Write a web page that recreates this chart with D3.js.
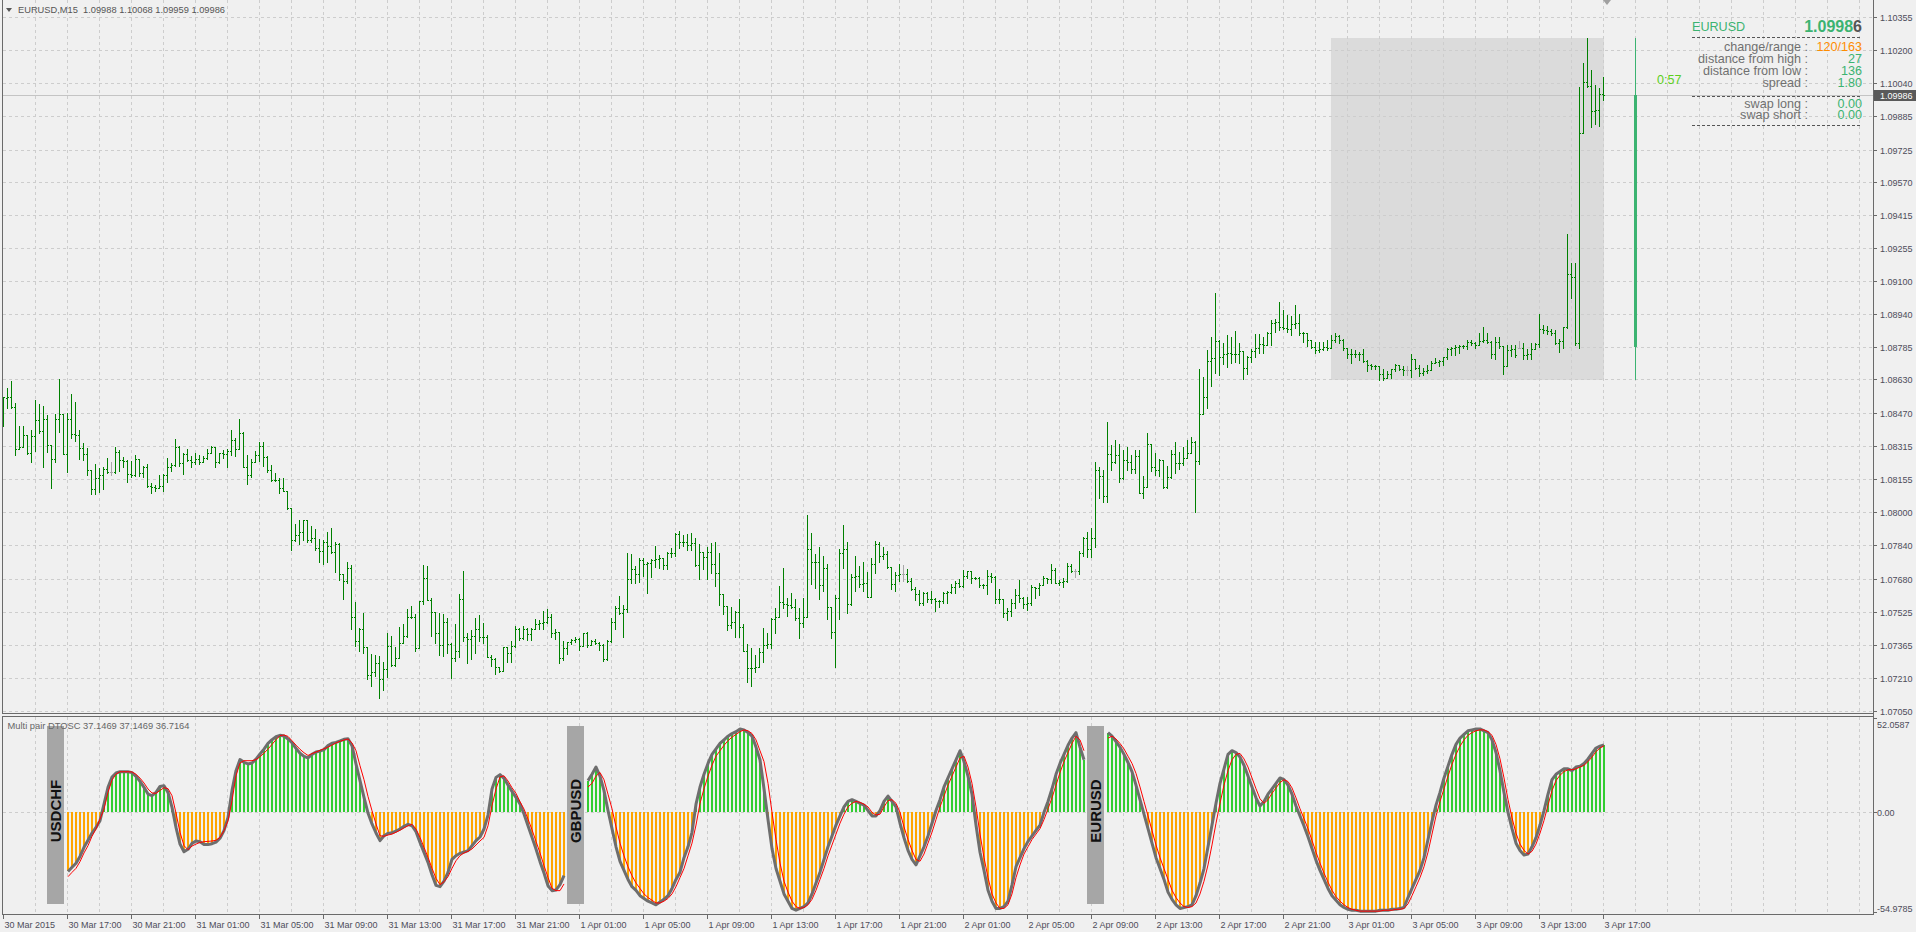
<!DOCTYPE html>
<html><head><meta charset="utf-8">
<script src="https://cdn.jsdelivr.net/npm/d3@7"></script>
<style>
html,body{margin:0;padding:0;background:#f0f0f0;overflow:hidden}
svg{display:block}
text{font-family:"Liberation Sans",Arial,sans-serif}
</style></head><body>
<svg id="c" width="1916" height="932"></svg>
<script>
// ---------------- DATA ----------------
const symbol = "EURUSD";
const titleText = "EURUSD,M15\u00A0\u00A01.09988 1.10068 1.09959 1.09986";
const oscTitle = "Multi pair DTOSC 37.1469 37.1469 36.7164";
const lastPrice = 1.09986;
const lastPriceStr = "1.09986";
const timerText = "0:57";
// daily candle: open, high, low, close
const dailyOHLC = [1.08786, 1.10256, 1.08626, 1.09986];
const dayStartBar = 332;
const infoLabels = ["change/range :", "distance from high :", "distance from low :", "spread :", "swap long :", "swap short :"];
const infoValues = ["120/163", "27", "136", "1.80", "0.00", "0.00"];
const priceTicks = [1.10355,1.10200,1.10040,1.09885,1.09725,1.09570,1.09415,1.09255,1.09100,1.08940,1.08785,1.08630,1.08470,1.08315,1.08155,1.08000,1.07840,1.07680,1.07525,1.07365,1.07210,1.07050];
const oscTicks = [52.0587, 0, -54.9785];
const oscTickLabels = ["52.0587", "0.00", "-54.9785"];
const timeLabels = ["30 Mar 2015","30 Mar 17:00","30 Mar 21:00","31 Mar 01:00","31 Mar 05:00","31 Mar 09:00","31 Mar 13:00","31 Mar 17:00","31 Mar 21:00","1 Apr 01:00","1 Apr 05:00","1 Apr 09:00","1 Apr 13:00","1 Apr 17:00","1 Apr 21:00","2 Apr 01:00","2 Apr 05:00","2 Apr 09:00","2 Apr 13:00","2 Apr 17:00","2 Apr 21:00","3 Apr 01:00","3 Apr 05:00","3 Apr 09:00","3 Apr 13:00","3 Apr 17:00"];

const barOpen = [1.08500,1.08544,1.08546,1.08501,1.08298,1.08310,1.08364,1.08279,1.08360,1.08436,
1.08383,1.08440,1.08317,1.08253,1.08444,1.08466,1.08277,1.08440,1.08369,1.08367,
1.08302,1.08274,1.08198,1.08107,1.08159,1.08174,1.08202,1.08191,1.08191,1.08283,
1.08247,1.08244,1.08182,1.08177,1.08250,1.08183,1.08215,1.08123,1.08117,1.08115,
1.08123,1.08177,1.08215,1.08221,1.08307,1.08231,1.08274,1.08247,1.08237,1.08253,
1.08237,1.08255,1.08279,1.08307,1.08236,1.08279,1.08277,1.08291,1.08340,1.08298,
1.08374,1.08215,1.08174,1.08239,1.08269,1.08315,1.08263,1.08199,1.08150,1.08153,
1.08115,1.08099,1.08017,1.07864,1.07890,1.07902,1.07959,1.07864,1.07874,1.07826,
1.07815,1.07858,1.07837,1.07810,1.07848,1.07702,1.07669,1.07731,1.07498,1.07386,
1.07442,1.07355,1.07223,1.07239,1.07282,1.07202,1.07253,1.07363,1.07272,1.07305,
1.07377,1.07409,1.07498,1.07501,1.07353,1.07574,1.07685,1.07579,1.07521,1.07421,
1.07364,1.07477,1.07371,1.07302,1.07337,1.07583,1.07402,1.07393,1.07409,1.07440,
1.07402,1.07405,1.07310,1.07301,1.07263,1.07244,1.07355,1.07329,1.07361,1.07440,
1.07398,1.07442,1.07418,1.07444,1.07466,1.07468,1.07477,1.07498,1.07421,1.07426,
1.07302,1.07350,1.07378,1.07390,1.07393,1.07363,1.07421,1.07366,1.07386,1.07377,
1.07366,1.07298,1.07386,1.07477,1.07540,1.07517,1.07536,1.07679,1.07726,1.07704,
1.07771,1.07750,1.07755,1.07771,1.07774,1.07778,1.07747,1.07802,1.07804,1.07893,
1.07855,1.07857,1.07842,1.07850,1.07747,1.07807,1.07783,1.07807,1.07750,1.07707,
1.07607,1.07552,1.07461,1.07477,1.07521,1.07453,1.07339,1.07258,1.07256,1.07259,
1.07331,1.07366,1.07371,1.07488,1.07498,1.07569,1.07559,1.07557,1.07548,1.07496,
1.07472,1.07498,1.07821,1.07759,1.07762,1.07651,1.07730,1.07545,1.07426,1.07588,
1.07802,1.07821,1.07559,1.07691,1.07694,1.07656,1.07659,1.07595,1.07749,1.07845,
1.07789,1.07797,1.07735,1.07656,1.07699,1.07703,1.07703,1.07672,1.07632,1.07608,
1.07567,1.07614,1.07583,1.07585,1.07576,1.07575,1.07614,1.07619,1.07643,1.07662,
1.07646,1.07694,1.07718,1.07683,1.07687,1.07651,1.07652,1.07694,1.07691,1.07583,
1.07584,1.07516,1.07529,1.07564,1.07603,1.07591,1.07559,1.07567,1.07643,1.07635,
1.07651,1.07683,1.07678,1.07722,1.07660,1.07667,1.07668,1.07741,1.07719,1.07719,
1.07805,1.07873,1.07821,1.07876,1.08199,1.08170,1.08076,1.08275,1.08238,1.08270,
1.08159,1.08246,1.08238,1.08202,1.08265,1.08091,1.08119,1.08322,1.08211,1.08199,
1.08246,1.08116,1.08164,1.08273,1.08230,1.08234,1.08257,1.08281,1.08334,1.08243,
1.08464,1.08545,1.08718,1.08733,1.08813,1.08739,1.08752,1.08754,1.08752,1.08750,
1.08766,1.08683,1.08739,1.08767,1.08779,1.08798,1.08796,1.08850,1.08901,1.08903,
1.08882,1.08877,1.08869,1.08894,1.08898,1.08850,1.08852,1.08818,1.08783,1.08771,
1.08773,1.08787,1.08779,1.08818,1.08837,1.08818,1.08779,1.08752,1.08750,1.08753,
1.08751,1.08718,1.08699,1.08696,1.08694,1.08656,1.08636,1.08656,1.08678,1.08699,
1.08679,1.08675,1.08675,1.08726,1.08683,1.08663,1.08672,1.08675,1.08710,1.08715,
1.08716,1.08736,1.08774,1.08779,1.08787,1.08788,1.08790,1.08810,1.08806,1.08794,
1.08815,1.08817,1.08810,1.08752,1.08810,1.08790,1.08694,1.08771,1.08773,1.08779,
1.08779,1.08747,1.08749,1.08774,1.08799,1.08869,1.08866,1.08861,1.08853,1.08806,
1.08815,1.08878,1.09132,1.09117,1.08802,1.09805,1.10045,1.10029,1.09910,1.09912,
1.09988];

const barHigh = [1.08545,1.08588,1.08623,1.08517,1.08409,1.08409,1.08364,1.08390,1.08531,1.08513,
1.08502,1.08461,1.08318,1.08466,1.08631,1.08466,1.08469,1.08561,1.08521,1.08390,
1.08326,1.08302,1.08199,1.08226,1.08207,1.08215,1.08255,1.08239,1.08307,1.08294,
1.08263,1.08247,1.08242,1.08271,1.08250,1.08218,1.08226,1.08136,1.08128,1.08175,
1.08180,1.08255,1.08231,1.08345,1.08313,1.08282,1.08298,1.08266,1.08282,1.08271,
1.08266,1.08298,1.08313,1.08307,1.08279,1.08294,1.08298,1.08390,1.08353,1.08440,
1.08379,1.08271,1.08250,1.08291,1.08334,1.08333,1.08266,1.08221,1.08183,1.08159,
1.08159,1.08099,1.08017,1.07944,1.07961,1.07963,1.07959,1.07932,1.07917,1.07869,
1.07866,1.07904,1.07923,1.07856,1.07850,1.07702,1.07761,1.07747,1.07569,1.07445,
1.07517,1.07355,1.07323,1.07318,1.07313,1.07283,1.07425,1.07407,1.07358,1.07453,
1.07464,1.07536,1.07552,1.07513,1.07577,1.07745,1.07740,1.07588,1.07525,1.07518,
1.07513,1.07493,1.07374,1.07466,1.07609,1.07718,1.07421,1.07437,1.07493,1.07509,
1.07469,1.07413,1.07318,1.07302,1.07263,1.07358,1.07358,1.07385,1.07456,1.07445,
1.07456,1.07445,1.07445,1.07490,1.07485,1.07528,1.07536,1.07513,1.07440,1.07429,
1.07385,1.07382,1.07393,1.07402,1.07398,1.07425,1.07426,1.07390,1.07394,1.07382,
1.07371,1.07390,1.07493,1.07552,1.07599,1.07556,1.07802,1.07798,1.07742,1.07782,
1.07778,1.07763,1.07774,1.07837,1.07794,1.07779,1.07807,1.07826,1.07898,1.07909,
1.07890,1.07894,1.07898,1.07877,1.07847,1.07809,1.07834,1.07850,1.07855,1.07802,
1.07607,1.07552,1.07548,1.07529,1.07583,1.07466,1.07369,1.07350,1.07318,1.07350,
1.07445,1.07425,1.07493,1.07540,1.07647,1.07732,1.07591,1.07615,1.07583,1.07540,
1.07588,1.07985,1.07897,1.07799,1.07830,1.07789,1.07750,1.07546,1.07603,1.07821,
1.07937,1.07854,1.07703,1.07789,1.07741,1.07759,1.07711,1.07778,1.07860,1.07857,
1.07830,1.07813,1.07736,1.07711,1.07751,1.07746,1.07726,1.07687,1.07640,1.07627,
1.07619,1.07619,1.07622,1.07588,1.07579,1.07619,1.07624,1.07656,1.07672,1.07678,
1.07722,1.07719,1.07719,1.07691,1.07688,1.07656,1.07722,1.07710,1.07694,1.07630,
1.07585,1.07540,1.07583,1.07630,1.07675,1.07592,1.07595,1.07651,1.07644,1.07659,
1.07694,1.07687,1.07751,1.07734,1.07675,1.07687,1.07754,1.07749,1.07728,1.07814,
1.07881,1.07905,1.07921,1.08238,1.08214,1.08199,1.08426,1.08318,1.08341,1.08322,
1.08294,1.08310,1.08270,1.08294,1.08294,1.08170,1.08373,1.08323,1.08281,1.08249,
1.08247,1.08218,1.08294,1.08330,1.08286,1.08310,1.08341,1.08354,1.08337,1.08679,
1.08640,1.08770,1.08830,1.09040,1.08818,1.08802,1.08842,1.08831,1.08861,1.08806,
1.08767,1.08742,1.08775,1.08845,1.08845,1.08834,1.08858,1.08914,1.08917,1.08998,
1.08961,1.08937,1.08930,1.08985,1.08941,1.08858,1.08853,1.08819,1.08810,1.08810,
1.08810,1.08818,1.08842,1.08850,1.08842,1.08821,1.08780,1.08774,1.08771,1.08763,
1.08774,1.08723,1.08702,1.08699,1.08695,1.08679,1.08668,1.08679,1.08704,1.08700,
1.08694,1.08694,1.08752,1.08727,1.08699,1.08683,1.08699,1.08718,1.08731,1.08723,
1.08739,1.08779,1.08787,1.08794,1.08794,1.08794,1.08818,1.08818,1.08810,1.08853,
1.08882,1.08850,1.08811,1.08831,1.08834,1.08791,1.08794,1.08794,1.08794,1.08814,
1.08802,1.08774,1.08802,1.08802,1.08942,1.08890,1.08885,1.08869,1.08866,1.08821,
1.08879,1.09321,1.09183,1.09183,1.10025,1.10136,1.10256,1.10104,1.10032,1.10017,
1.10068];

const barLow = [1.08410,1.08493,1.08493,1.08271,1.08298,1.08307,1.08274,1.08239,1.08291,1.08377,
1.08215,1.08283,1.08115,1.08239,1.08382,1.08274,1.08190,1.08350,1.08337,1.08252,
1.08247,1.08175,1.08086,1.08086,1.08093,1.08110,1.08183,1.08175,1.08183,1.08194,
1.08215,1.08144,1.08167,1.08171,1.08171,1.08167,1.08120,1.08088,1.08101,1.08112,
1.08101,1.08144,1.08194,1.08218,1.08218,1.08182,1.08242,1.08215,1.08228,1.08226,
1.08237,1.08250,1.08279,1.08212,1.08231,1.08255,1.08215,1.08271,1.08266,1.08298,
1.08215,1.08131,1.08167,1.08239,1.08240,1.08218,1.08188,1.08148,1.08148,1.08091,
1.08099,1.08013,1.07818,1.07863,1.07847,1.07866,1.07858,1.07858,1.07818,1.07761,
1.07752,1.07763,1.07806,1.07713,1.07675,1.07586,1.07659,1.07440,1.07361,1.07337,
1.07326,1.07204,1.07172,1.07218,1.07115,1.07152,1.07215,1.07266,1.07266,1.07305,
1.07377,1.07405,1.07493,1.07339,1.07350,1.07559,1.07578,1.07410,1.07377,1.07317,
1.07315,1.07329,1.07210,1.07291,1.07310,1.07386,1.07279,1.07299,1.07329,1.07385,
1.07374,1.07307,1.07267,1.07226,1.07239,1.07242,1.07286,1.07286,1.07355,1.07390,
1.07393,1.07390,1.07390,1.07442,1.07440,1.07440,1.07469,1.07405,1.07394,1.07282,
1.07294,1.07323,1.07371,1.07380,1.07342,1.07362,1.07358,1.07365,1.07370,1.07342,
1.07291,1.07294,1.07382,1.07442,1.07513,1.07405,1.07525,1.07659,1.07663,1.07667,
1.07694,1.07615,1.07691,1.07736,1.07731,1.07726,1.07726,1.07786,1.07789,1.07826,
1.07839,1.07818,1.07818,1.07742,1.07679,1.07726,1.07679,1.07707,1.07648,1.07556,
1.07513,1.07437,1.07445,1.07405,1.07405,1.07339,1.07191,1.07172,1.07236,1.07259,
1.07286,1.07350,1.07350,1.07425,1.07498,1.07540,1.07504,1.07540,1.07485,1.07398,
1.07453,1.07498,1.07656,1.07638,1.07584,1.07624,1.07489,1.07397,1.07259,1.07489,
1.07730,1.07516,1.07558,1.07624,1.07640,1.07624,1.07592,1.07595,1.07707,1.07762,
1.07773,1.07734,1.07630,1.07624,1.07672,1.07672,1.07667,1.07627,1.07579,1.07556,
1.07556,1.07568,1.07564,1.07529,1.07545,1.07564,1.07564,1.07614,1.07614,1.07640,
1.07640,1.07683,1.07662,1.07678,1.07640,1.07635,1.07608,1.07667,1.07564,1.07564,
1.07500,1.07484,1.07505,1.07540,1.07572,1.07540,1.07532,1.07556,1.07588,1.07603,
1.07650,1.07659,1.07659,1.07659,1.07651,1.07643,1.07667,1.07715,1.07691,1.07703,
1.07789,1.07786,1.07786,1.07830,1.08064,1.08048,1.08048,1.08199,1.08234,1.08143,
1.08158,1.08199,1.08186,1.08186,1.08088,1.08064,1.08118,1.08195,1.08175,1.08170,
1.08111,1.08115,1.08159,1.08183,1.08202,1.08222,1.08254,1.08278,1.08000,1.08226,
1.08464,1.08492,1.08599,1.08660,1.08652,1.08702,1.08688,1.08710,1.08715,1.08710,
1.08633,1.08656,1.08715,1.08739,1.08758,1.08758,1.08794,1.08794,1.08858,1.08866,
1.08869,1.08858,1.08842,1.08874,1.08842,1.08810,1.08790,1.08779,1.08758,1.08763,
1.08768,1.08771,1.08778,1.08810,1.08802,1.08771,1.08731,1.08707,1.08739,1.08723,
1.08715,1.08672,1.08679,1.08679,1.08628,1.08628,1.08635,1.08636,1.08668,1.08675,
1.08652,1.08652,1.08644,1.08679,1.08647,1.08652,1.08663,1.08674,1.08707,1.08694,
1.08699,1.08726,1.08747,1.08747,1.08758,1.08779,1.08774,1.08794,1.08779,1.08793,
1.08810,1.08802,1.08731,1.08726,1.08779,1.08656,1.08693,1.08742,1.08736,1.08778,
1.08726,1.08726,1.08726,1.08773,1.08787,1.08850,1.08847,1.08842,1.08799,1.08763,
1.08779,1.08877,1.09017,1.08794,1.08782,1.09802,1.10025,1.09834,1.09847,1.09837,
1.09959];

const barClose = [1.08545,1.08546,1.08501,1.08298,1.08310,1.08364,1.08279,1.08360,1.08436,1.08383,
1.08440,1.08317,1.08253,1.08444,1.08466,1.08277,1.08440,1.08369,1.08367,1.08302,
1.08274,1.08198,1.08107,1.08159,1.08174,1.08202,1.08191,1.08191,1.08283,1.08247,
1.08244,1.08182,1.08177,1.08250,1.08183,1.08215,1.08123,1.08117,1.08115,1.08123,
1.08177,1.08215,1.08221,1.08307,1.08231,1.08274,1.08247,1.08237,1.08253,1.08237,
1.08255,1.08279,1.08307,1.08236,1.08279,1.08277,1.08291,1.08340,1.08298,1.08374,
1.08215,1.08174,1.08239,1.08269,1.08315,1.08263,1.08199,1.08150,1.08153,1.08115,
1.08099,1.08017,1.07864,1.07890,1.07902,1.07959,1.07864,1.07874,1.07826,1.07815,
1.07858,1.07837,1.07810,1.07848,1.07702,1.07669,1.07731,1.07498,1.07386,1.07442,
1.07355,1.07223,1.07239,1.07282,1.07202,1.07253,1.07363,1.07272,1.07305,1.07377,
1.07409,1.07498,1.07501,1.07353,1.07574,1.07685,1.07579,1.07521,1.07421,1.07364,
1.07477,1.07371,1.07302,1.07337,1.07583,1.07402,1.07393,1.07409,1.07440,1.07402,
1.07405,1.07310,1.07301,1.07263,1.07244,1.07355,1.07329,1.07361,1.07440,1.07398,
1.07442,1.07418,1.07444,1.07466,1.07468,1.07477,1.07498,1.07421,1.07426,1.07302,
1.07350,1.07378,1.07390,1.07393,1.07363,1.07421,1.07366,1.07386,1.07377,1.07366,
1.07298,1.07386,1.07477,1.07540,1.07517,1.07536,1.07679,1.07726,1.07704,1.07771,
1.07750,1.07755,1.07771,1.07774,1.07778,1.07747,1.07802,1.07804,1.07893,1.07855,
1.07857,1.07842,1.07850,1.07747,1.07807,1.07783,1.07807,1.07750,1.07707,1.07607,
1.07552,1.07461,1.07477,1.07521,1.07453,1.07339,1.07258,1.07256,1.07259,1.07331,
1.07366,1.07371,1.07488,1.07498,1.07569,1.07559,1.07557,1.07548,1.07496,1.07472,
1.07498,1.07821,1.07759,1.07762,1.07651,1.07730,1.07545,1.07426,1.07588,1.07802,
1.07821,1.07559,1.07691,1.07694,1.07656,1.07659,1.07595,1.07749,1.07845,1.07789,
1.07797,1.07735,1.07656,1.07699,1.07703,1.07703,1.07672,1.07632,1.07608,1.07567,
1.07614,1.07583,1.07585,1.07576,1.07575,1.07614,1.07619,1.07643,1.07662,1.07646,
1.07694,1.07718,1.07683,1.07687,1.07651,1.07652,1.07694,1.07691,1.07583,1.07584,
1.07516,1.07529,1.07564,1.07603,1.07591,1.07559,1.07567,1.07643,1.07635,1.07651,
1.07683,1.07678,1.07722,1.07660,1.07667,1.07668,1.07741,1.07719,1.07719,1.07805,
1.07873,1.07821,1.07876,1.08199,1.08170,1.08076,1.08275,1.08238,1.08270,1.08159,
1.08246,1.08238,1.08202,1.08265,1.08091,1.08119,1.08322,1.08211,1.08199,1.08246,
1.08116,1.08164,1.08273,1.08230,1.08234,1.08257,1.08281,1.08334,1.08243,1.08464,
1.08545,1.08718,1.08733,1.08813,1.08739,1.08752,1.08754,1.08752,1.08750,1.08766,
1.08683,1.08739,1.08767,1.08779,1.08798,1.08796,1.08850,1.08901,1.08903,1.08882,
1.08877,1.08869,1.08894,1.08898,1.08850,1.08852,1.08818,1.08783,1.08771,1.08773,
1.08787,1.08779,1.08818,1.08837,1.08818,1.08779,1.08752,1.08750,1.08753,1.08751,
1.08718,1.08699,1.08696,1.08694,1.08656,1.08636,1.08656,1.08678,1.08699,1.08679,
1.08675,1.08675,1.08726,1.08683,1.08663,1.08672,1.08675,1.08710,1.08715,1.08716,
1.08736,1.08774,1.08779,1.08787,1.08788,1.08790,1.08810,1.08806,1.08794,1.08815,
1.08817,1.08810,1.08752,1.08810,1.08790,1.08694,1.08771,1.08773,1.08747,1.08779,
1.08747,1.08749,1.08774,1.08799,1.08869,1.08866,1.08861,1.08853,1.08806,1.08815,
1.08878,1.09132,1.09117,1.08802,1.09805,1.10045,1.10029,1.09910,1.09912,1.09988,
1.09986];

// oscillator sub-window (one segment of 125 bars per pair)
const pairs = ["USDCHF", "GBPUSD", "EURUSD"];
const pairStartBar = [16, 146, 276];
const usdchfMain = [-32.6,-30.3,-28.1,-24.3,-19.3,-15.4,-11.4,-8.3,-4.6,4.6,13.8,19.5,21.7,22.4,22.4,22.4,21.9,19.9,17.1,13.8,10.1,9.2,11.0,14.3,14.7,11.0,2.8,-8.3,-17.5,-21.7,-20.4,-17.1,-15.8,-16.2,-17.7,-17.8,-17.3,-16.4,-14.3,-10.1,-2.8,12.0,23.0,29.1,27.6,26.7,27.2,29.4,32.2,34.9,38.1,40.1,41.7,42.5,42.1,40.5,38.4,35.3,32.6,30.9,30.0,32.0,33.3,33.8,34.6,36.8,38.1,38.6,39.4,40.3,40.6,36.8,26.7,17.5,8.3,-0.4,-6.4,-11.4,-15.6,-12.9,-11.6,-11.2,-10.3,-9.2,-7.7,-6.6,-7.4,-10.7,-16.6,-22.1,-27.6,-34.4,-40.3,-41.0,-37.9,-33.1,-25.9,-23.9,-22.6,-21.9,-21.1,-18.4,-15.6,-13.6,-9.2,-1.5,12.9,19.3,20.8,18.8,15.1,11.6,8.3,4.6,-0.9,-7.4,-13.8,-20.2,-27.2,-33.5,-40.5,-43.2,-42.8,-39.9,-34.9];
const usdchfSignal = [-35.5,-33.1,-30.9,-27.2,-22.4,-18.4,-13.2,-9.2,-3.7,1.8,11.0,17.8,21.1,22.4,22.4,22.4,22.3,21.0,18.9,16.2,12.9,10.7,10.5,12.1,13.6,13.1,9.2,-0.4,-11.0,-18.4,-20.6,-18.6,-17.5,-16.6,-16.2,-16.0,-15.8,-15.4,-13.8,-10.1,-4.6,6.4,20.2,27.2,28.5,28.5,28.5,29.1,30.7,32.7,34.9,37.5,40.1,42.3,42.7,41.9,39.5,37.1,34.8,32.9,31.4,32.4,33.3,34.2,35.1,36.0,37.1,38.3,39.2,39.9,40.5,38.3,34.0,25.7,18.0,8.8,0.9,-6.4,-12.9,-13.2,-12.5,-12.0,-11.0,-9.9,-8.6,-7.4,-6.6,-9.2,-13.8,-19.3,-24.8,-30.9,-36.4,-39.9,-38.3,-35.5,-30.9,-26.7,-23.9,-22.4,-21.5,-20.2,-18.0,-15.8,-13.8,-7.4,3.7,12.9,19.5,20.2,17.3,13.6,10.5,5.9,1.8,-3.7,-9.6,-16.0,-22.4,-29.4,-35.9,-41.9,-43.2,-43.2,-39.5];
const gbpusdMain = [17.5,21,25,20,12,1,-9,-19,-27,-32,
-37,-41,-43,-46,-47.5,-49,-50,-51,-49.5,-48,
-46,-42,-37,-33,-25,-19,-11,4.5,14,21,
27,32,35,38,40,42,43.5,44.5,46,45.5,
44,42,36,29,13,-4,-20,-31,-38,-45,
-49,-53,-54,-53,-52,-50,-45,-39,-33,-26,
-19,-13,-7,-2,3,6,7,6,5,4,
1,-2,-2,1,6,9,6,3,-6,-14,
-21,-26,-29,-24,-19,-13,-6,1,7,14,
19,24,29,34,28,20,10,-7,-22,-32,
-43,-49,-53,-53,-52,-49,-40,-30,-25,-20,
-16,-13,-10,-7,0,6,13,21,27,32,
37,41,44,36,29];
const gbpusdSignal = [14,16,20,22,18,10,2,-8,-17,-24,
-30,-35,-39,-42,-45,-47,-48.5,-50,-50,-49,
-47.5,-45,-41,-36,-31,-24,-17,-7,5,13,
20,26,31,34,37,39.5,41.5,43,44.5,45.5,
45,43.5,40,34,28,16,0,-15,-28,-38,
-44,-49,-52,-53,-52.5,-51,-48,-43,-37,-31,
-24,-18,-12,-6,-1,3,5,6,5.5,4.5,
3,0,-1.5,-1,3,6.5,7,5,0,-8,
-15,-21,-26,-27,-23,-17,-11,-4,3,9,
15,20,25,30,31,25,16,3,-12,-25,
-36,-45,-50,-53,-53,-51,-45,-36,-29,-23,
-19,-15,-12,-9,-4,2,8,15,22,28,
33,38,42,40,34];
const eurusdMain = [44,42,39,36,32,27.5,22.5,15,7,-1,
-9,-17,-25,-31,-37,-44,-48,-51,-53,-52.5,
-52,-51,-46,-39,-31,-19,-7,5,16,24,
32,34,33,30.5,26,20,14,8,3.5,6,
10,13,16,19,18,15,10,3.5,-2,-7.5,
-13.5,-20,-26.5,-32,-37,-42,-46,-48.5,-51,-52.5,
-53.5,-54,-54,-54.5,-54.5,-54.5,-54.5,-54.5,-54,-54,
-54,-53.5,-53.5,-53,-52.5,-47,-42,-37,-32,-25,
-15,-5,4,11,19,25.5,32,37.5,41,43,
45,45.5,46,46,45,44,40,33,23,11,
0,-9,-17,-21,-23.5,-23,-19,-14,-7,1,
10,18,21,22.5,24,24,23,25,25.5,27,
29.5,32.5,35.5,36.5,37.1469];
const eurusdSignal = [41,42,40.5,38,35,31,27,21.5,14,6,
-2,-10,-18,-25,-31,-37,-43,-47,-50,-52,
-52.5,-52,-50,-45,-38,-29,-18,-6,5,15,
23,29,32,32.5,29.5,25,19,13,7.5,5,
7,10.5,13.5,16.5,18,17,13.5,8,2,-3.5,
-9,-15.5,-22,-28,-33.5,-38.5,-43,-46.5,-49,-51,
-52.5,-53.5,-54,-54.5,-54.5,-54.5,-54.5,-54.5,-54.5,-54,
-54,-54,-53.5,-53.5,-53,-50.5,-46,-41,-36,-30,
-22,-12,-2,6,13,20,26.5,32,36.5,40,
42.5,44,45,45.5,45.5,44.5,42.5,37.5,29.5,19,
7,-3,-11.5,-17.5,-21,-23,-21.5,-17.5,-11.5,-4.5,
4,12,17.5,20.5,22.5,23.5,23.5,24,25,26,
28,30.5,33.5,35.5,36.7164];

// ---------------- DRAW ----------------
const W = 1916, H = 932;
const L = 2, R = 1873, mainB = 713, subT = 716, subB = 914;
const nBars = barClose.length;
const svg = d3.select("#c");
const x = d3.scaleLinear().domain([0, nBars - 1]).range([3, 1603]);
const y = d3.scaleLinear().domain([1.07037, 1.10437]).range([714, 0]);
const yo = d3.scaleLinear().domain([oscTicks[2], oscTicks[0]]).range([912, 718]);
const cr = v => Math.round(v) + 0.5;

svg.append("rect").attr("width", W).attr("height", H).attr("fill", "#f0f0f0");

// day range box
const xd0 = Math.round(x(dayStartBar)), xd1 = Math.round(x(nBars - 1)) + 1;
const yd0 = Math.round(y(dailyOHLC[1])), yd1 = Math.round(y(dailyOHLC[2]));
svg.append("rect").attr("x", xd0).attr("y", yd0).attr("width", xd1 - xd0).attr("height", yd1 - yd0).attr("fill", "#dbdbdb");

// grid
const grid = svg.append("g").attr("stroke", "#cdcdcd").attr("stroke-dasharray", "3,3").attr("shape-rendering", "crispEdges");
for (let k = 8; x(k) < R - 2; k += 8) {
  const xx = cr(x(k));
  grid.append("line").attr("x1", xx).attr("x2", xx).attr("y1", 0).attr("y2", mainB);
  grid.append("line").attr("x1", xx).attr("x2", xx).attr("y1", subT + 1).attr("y2", subB);
}
priceTicks.forEach(p => {
  const yy = cr(y(p));
  grid.append("line").attr("x1", L + 1).attr("x2", R).attr("y1", yy).attr("y2", yy);
});
grid.append("line").attr("x1", L + 1).attr("x2", R).attr("y1", cr(yo(0))).attr("y2", cr(yo(0)));

// current price line
svg.append("line").attr("x1", L + 1).attr("x2", R).attr("y1", cr(y(lastPrice))).attr("y2", cr(y(lastPrice)))
  .attr("stroke", "#c4c4c4").attr("shape-rendering", "crispEdges");

// OHLC bars
let dG = "", dD = "";
for (let i = 0; i < nBars; i++) {
  const cx = Math.round(x(i)) + 0.5;
  const yh = Math.round(y(barHigh[i])), yl = Math.round(y(barLow[i]));
  const yO = Math.round(y(barOpen[i])) + 0.5, yC = Math.round(y(barClose[i])) + 0.5;
  const s = `M${cx},${yh}V${yl + 1}M${cx - 1.5},${yO}h1M${cx + 0.5},${yC}h1`;
  if (barOpen[i] === barClose[i]) dD += s; else dG += s;
}
svg.append("path").attr("d", dG).attr("stroke", "#008000").attr("fill", "none").attr("shape-rendering", "crispEdges");
svg.append("path").attr("d", dD).attr("stroke", "#a8a8a8").attr("fill", "none").attr("shape-rendering", "crispEdges");

// daily candle
const xc = Math.round(x(nBars - 1 + 8));
svg.append("line").attr("x1", xc + 0.5).attr("x2", xc + 0.5).attr("y1", Math.round(y(dailyOHLC[1]))).attr("y2", Math.round(y(dailyOHLC[2])))
  .attr("stroke", "#3cb371").attr("shape-rendering", "crispEdges");
svg.append("rect").attr("x", xc - 1).attr("width", 3).attr("y", Math.round(y(dailyOHLC[3]))).attr("height", Math.round(y(dailyOHLC[0])) - Math.round(y(dailyOHLC[3])))
  .attr("fill", "#3cb371");

// shift marker
svg.append("path").attr("d", `M${Math.round(x(nBars-1))},0h8l-4,5z`).attr("fill", "#a0a0a0");

// ---- oscillator ----
const oscMain = [usdchfMain, gbpusdMain, eurusdMain];
const oscSig = [usdchfSignal, gbpusdSignal, eurusdSignal];
const y0 = yo(0);
pairs.forEach((name, p) => {
  const s = pairStartBar[p];
  const bx0 = Math.round(x(s - 5)), bx1 = Math.round(x(s - 1)) + 1;
  svg.append("rect").attr("x", bx0).attr("y", 726).attr("width", bx1 - bx0).attr("height", 178).attr("fill", "#a6a6a6");
  svg.append("text").attr("transform", `translate(${(bx0 + bx1) / 2 + 5.3},811) rotate(-90)`)
    .attr("text-anchor", "middle").attr("font-weight", "bold").attr("font-size", 15).attr("fill", "#111").text(name);
  const m = oscMain[p], sg = oscSig[p];
  const hg = svg.append("g").attr("shape-rendering", "crispEdges");
  m.forEach((v, j) => {
    const xx = Math.round(x(s + j));
    const yv = yo(v);
    hg.append("rect").attr("x", xx).attr("width", 2)
      .attr("y", Math.min(yv, y0)).attr("height", Math.abs(yv - y0))
      .attr("fill", v >= 0 ? "#32cd32" : "#ffa500");
  });
  if (m.length) {
    const ln = d3.line().x((d, j) => x(s + j) + 1).y(d => yo(d));
    svg.append("path").attr("d", ln(m)).attr("fill", "none").attr("stroke", "#6e6e6e").attr("stroke-width", 3).attr("stroke-linejoin", "round");
    svg.append("path").attr("d", ln(sg)).attr("fill", "none").attr("stroke", "#ff0000").attr("stroke-width", 1);
  }
});

// ---- frames ----
const fr = svg.append("g").attr("stroke", "#6a6a6a").attr("shape-rendering", "crispEdges");
fr.append("line").attr("x1", L + 0.5).attr("x2", L + 0.5).attr("y1", 0).attr("y2", mainB + 1);
fr.append("line").attr("x1", L + 0.5).attr("x2", L + 0.5).attr("y1", subT).attr("y2", subB + 1);
fr.append("line").attr("x1", R + 0.5).attr("x2", R + 0.5).attr("y1", 0).attr("y2", subB + 1);
fr.append("line").attr("x1", L).attr("x2", R + 1).attr("y1", mainB + 0.5).attr("y2", mainB + 0.5);
fr.append("line").attr("x1", L).attr("x2", R + 1).attr("y1", subT + 0.5).attr("y2", subT + 0.5);
fr.append("line").attr("x1", L).attr("x2", R + 1).attr("y1", subB + 0.5).attr("y2", subB + 0.5);

// ---- price axis ----
const axC = "#4d4d5a";
priceTicks.forEach(p => {
  const yy = cr(y(p));
  fr.append("line").attr("x1", R + 1).attr("x2", R + 4).attr("y1", yy).attr("y2", yy);
  svg.append("text").attr("x", 1880).attr("y", yy + 3.3).attr("font-size", 9).attr("fill", axC).text(p.toFixed(5));
});
// price box
const yp = cr(y(lastPrice));
svg.append("rect").attr("x", R + 1).attr("y", yp - 5.5).attr("width", W - R - 1).attr("height", 11).attr("fill", "#5a5a5a");
svg.append("text").attr("x", 1880).attr("y", yp + 3.3).attr("font-size", 9).attr("fill", "#ffffff").text(lastPriceStr);

// osc axis
const oscLabelY = [727.5, 815.5, 911.5];
oscTicks.forEach((v, k) => {
  const yy = cr(yo(v));
  fr.append("line").attr("x1", R + 1).attr("x2", R + 4).attr("y1", yy).attr("y2", yy);
  svg.append("text").attr("x", 1877).attr("y", oscLabelY[k]).attr("font-size", 9).attr("fill", axC).text(oscTickLabels[k]);
});

// time axis
timeLabels.forEach((t, k) => {
  const xx = cr(x(k * 16));
  fr.append("line").attr("x1", xx).attr("x2", xx).attr("y1", subB + 1).attr("y2", subB + 5);
  svg.append("text").attr("x", xx + 1).attr("y", 927.5).attr("font-size", 9).attr("fill", axC).text(t);
});

// titles
svg.append("path").attr("d", "M6,8h6l-3,4z").attr("fill", "#555");
svg.append("text").attr("x", 18).attr("y", 12.5).attr("font-size", 9.6).attr("fill", "#555")
  .attr("textLength", 207).attr("lengthAdjust", "spacingAndGlyphs").text(titleText);
svg.append("text").attr("x", 7.5).attr("y", 728.5).attr("font-size", 9.6).attr("fill", "#666")
  .attr("textLength", 182).attr("lengthAdjust", "spacingAndGlyphs").text(oscTitle);

// ---- info panel ----
const green = "#3cb371";
svg.append("text").attr("x", 1692).attr("y", 30.5).attr("font-size", 12.6).attr("fill", green).text(symbol);
const pt = svg.append("text").attr("x", 1862).attr("y", 31.5).attr("text-anchor", "end").attr("font-size", 16).attr("font-weight", "bold");
pt.append("tspan").attr("fill", green).text(lastPriceStr.slice(0, -1));
pt.append("tspan").attr("fill", "#555").text(lastPriceStr.slice(-1));
const rowY = [51.1, 63.4, 75.1, 86.7, 108.1, 119.4];
infoLabels.forEach((lab, k) => {
  svg.append("text").attr("x", 1808).attr("y", rowY[k]).attr("text-anchor", "end").attr("font-size", 12.6).attr("fill", "#707070").text(lab);
  svg.append("text").attr("x", 1862).attr("y", rowY[k]).attr("text-anchor", "end").attr("font-size", 12.6)
    .attr("fill", k === 0 ? "#ff8c00" : green).text(infoValues[k]);
});
[37.5, 96.5, 125.5].forEach(yy => {
  svg.append("line").attr("x1", 1692).attr("x2", 1862).attr("y1", yy).attr("y2", yy)
    .attr("stroke", "#555").attr("stroke-dasharray", "3,2").attr("shape-rendering", "crispEdges");
});
svg.append("text").attr("x", 1657).attr("y", 83.6).attr("font-size", 12.6).attr("fill", "#5ccf1c").text(timerText);
</script>
</body></html>
